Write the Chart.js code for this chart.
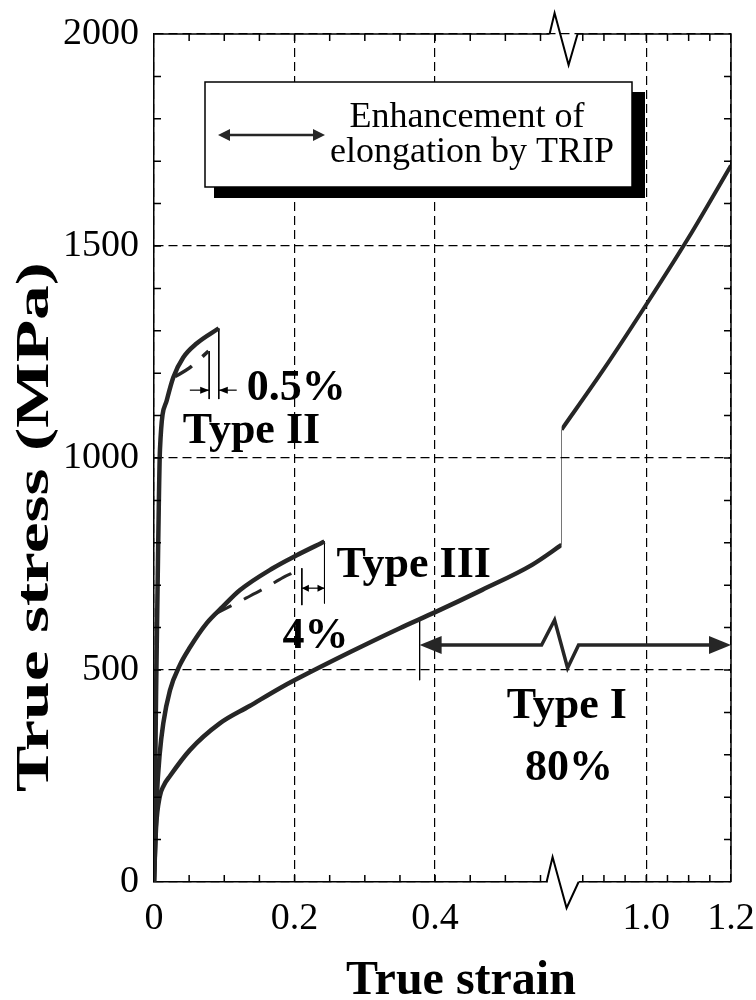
<!DOCTYPE html>
<html>
<head>
<meta charset="utf-8">
<script src="https://cdn.jsdelivr.net/npm/chart.js@4.4.0/dist/chart.umd.min.js"></script>
<style>
  html, body { margin: 0; padding: 0; background: #fff; }
  #wrap { width: 756px; height: 1000px; }
</style>
</head>
<body>
<div id="wrap"><canvas id="chart" width="756" height="1000"></canvas></div>
<script>
// Ejes (eje x partido: tramo izquierdo 0-0.58, tramo derecho 0.8-1.2)
const xLeftTicks = [0, 0.2, 0.4];
const xLeftLabels = ['0', '0.2', '0.4'];
const xRightTicks = [1.0, 1.2];
const xRightLabels = ['1.0', '1.2'];
const yTicks = [0, 500, 1000, 1500, 2000];
const yLabels = ['0', '500', '1000', '1500', '2000'];
const xTitle = 'True strain';
const yTitle = 'True stress (MPa)';

// Type I
const typeIStrain = [0, 0.003, 0.008, 0.014, 0.0227, 0.051, 0.0936, 0.136, 0.179, 0.2024, 0.28, 0.349, 0.401, 0.467, 0.538, 0.58];
const typeIStress = [0, 130, 200, 228, 250, 311, 374, 415, 457, 478, 543, 598, 637, 689, 748, 795];
const typeIJumpStrain = [0.58, 0.58];
const typeIJumpStress = [795, 1067];
const typeIHighStrain = [0.8, 0.9, 1.0, 1.1, 1.2];
const typeIHighStress = [1067, 1210, 1362, 1520, 1690];
const typeIMarkStrain = [0.378, 0.378];
const typeIMarkStress = [620, 476];

// Type II
const typeIIStrain = [0, 0.003, 0.006, 0.0085, 0.018, 0.0274, 0.0416, 0.0606, 0.0922];
const typeIIStress = [0, 450, 800, 1020, 1135, 1190, 1237, 1270, 1306];
const typeIIBaseStrain = [0.03, 0.05, 0.0775];
const typeIIBaseStress = [1192, 1212, 1252];
const typeIIMarkAStrain = [0.0922, 0.0922];
const typeIIMarkAStress = [1306, 1139];
const typeIIMarkBStrain = [0.0785, 0.0785];
const typeIIMarkBStress = [1252, 1139];

// Type III
const typeIIIStrain = [0, 0.004, 0.008, 0.0132, 0.0227, 0.0369, 0.051, 0.0748, 0.0983, 0.122, 0.169, 0.2024, 0.2426];
const typeIIIStress = [0, 200, 300, 374, 452, 512, 553, 610, 650, 688, 740, 770, 803];
const typeIIIBaseStrain = [0.085, 0.108, 0.1315, 0.162, 0.1834, 0.2024, 0.2104];
const typeIIIBaseStress = [630, 650, 670, 697, 718, 733, 740];
const typeIIIMarkAStrain = [0.2426, 0.2426];
const typeIIIMarkAStress = [803, 657];
const typeIIIMarkBStrain = [0.2104, 0.2104];
const typeIIIMarkBStress = [740, 653];

// Flechas de alargamiento [x1, x2, esfuerzo]
const arrowTypeII = [[0.051, 0.0785, 1160], [0.1177, 0.0922, 1160]];
const arrowTypeIII = [0.2104, 0.2426, 693];
const arrowTypeI = [0.378, 1.2, 559];

// Textos [texto, x, y, alineación]
const notes = [
  ['0.5%', 0.132, 1137, 'left'],
  ['Type II', 0.041, 1035, 'left'],
  ['Type III', 0.2596, 719, 'left'],
  ['4%', 0.183, 552, 'left'],
  ['Type I', 0.502, 387, 'left'],
  ['80%', 0.528, 241, 'left']
];
const legendLines = ['Enhancement of', 'elongation by TRIP'];

const SERIF = '"Liberation Serif", "Times New Roman", serif';
const INK = '#262626';

function pts(xs, ys) { return xs.map((x, i) => ({ x: x, y: ys[i] })); }

function curve(data, axis, width, dash) {
  const thin = dash === 'thin';
  return {
    data: data, xAxisID: axis, yAxisID: 'y', showLine: true,
    borderColor: thin ? '#000' : INK,
    borderWidth: width, borderDash: Array.isArray(dash) ? dash : [],
    pointRadius: 0, fill: false,
    cubicInterpolationMode: thin ? 'default' : 'monotone', tension: thin ? 0 : 0.4
  };
}

function head(ctx, x, y, dir, len, half) {
  ctx.beginPath();
  ctx.moveTo(x, y);
  ctx.lineTo(x - dir * len, y - half);
  ctx.lineTo(x - dir * len, y + half);
  ctx.closePath();
  ctx.fill();
}

function zigzag(ctx, bx, y, pts) {
  ctx.beginPath();
  pts.forEach((p, i) => i ? ctx.lineTo(bx + p[0], y + p[1]) : ctx.moveTo(bx + p[0], y + p[1]));
  ctx.stroke();
}

// quitar el margen que Chart.js reserva para las etiquetas extremas
function noEdgePad(s) {
  s.paddingLeft = 0; s.paddingRight = 0; s.paddingTop = 0; s.paddingBottom = 0;
}

// Marco, marcas internas, corte del eje, flechas, textos y leyenda
const decor = {
  id: 'decor',
  afterDraw(chart) {
    const { ctx, chartArea: a, scales } = chart;
    const xl = scales.xL, xr = scales.xR, y = scales.y;
    const bx = xl.right;
    ctx.save();
    ctx.strokeStyle = '#000';
    ctx.fillStyle = '#000';
    ctx.lineWidth = 1.5;

    // marcas menores hacia dentro
    ctx.beginPath();
    for (let v = 0.05; v < 0.58; v += 0.05) {
      const px = xl.getPixelForValue(v);
      ctx.moveTo(px, a.bottom); ctx.lineTo(px, a.bottom - 7);
      ctx.moveTo(px, a.top); ctx.lineTo(px, a.top + 7);
    }
    for (let v = 0.85; v < 1.199; v += 0.05) {
      const px = xr.getPixelForValue(v);
      ctx.moveTo(px, a.bottom); ctx.lineTo(px, a.bottom - 7);
      ctx.moveTo(px, a.top); ctx.lineTo(px, a.top + 7);
    }
    for (let v = 100; v < 2000; v += 100) {
      const py = y.getPixelForValue(v);
      ctx.moveTo(a.left, py); ctx.lineTo(a.left + 7, py);
      ctx.moveTo(a.right, py); ctx.lineTo(a.right - 7, py);
    }
    ctx.stroke();

    // marco superior y derecho
    ctx.beginPath();
    ctx.moveTo(a.left, a.top); ctx.lineTo(bx - 12, a.top);
    ctx.moveTo(bx + 16, a.top); ctx.lineTo(a.right, a.top);
    ctx.lineTo(a.right, a.bottom);
    ctx.stroke();

    // corte del eje x
    ctx.fillStyle = '#fff';
    ctx.fillRect(bx - 14, a.bottom - 3, 31, 6);
    ctx.fillStyle = '#000';
    ctx.lineWidth = 2;
    zigzag(ctx, bx, a.bottom, [[-15, 0], [-9, -25], [5, 26], [17, 0]]);
    zigzag(ctx, bx, a.top, [[-12, 0], [-7, -21], [7, 31], [16, 0]]);

    // flechas Type II (0.5%)
    ctx.lineWidth = 1.2;
    arrowTypeII.forEach(r => {
      const x1 = xl.getPixelForValue(r[0]), x2 = xl.getPixelForValue(r[1]), py = y.getPixelForValue(r[2]);
      ctx.beginPath(); ctx.moveTo(x1, py); ctx.lineTo(x2, py); ctx.stroke();
      head(ctx, x2, py, Math.sign(x2 - x1), 9, 3.5);
    });

    // flecha Type III (4%)
    {
      const x1 = xl.getPixelForValue(arrowTypeIII[0]), x2 = xl.getPixelForValue(arrowTypeIII[1]);
      const py = y.getPixelForValue(arrowTypeIII[2]);
      ctx.beginPath(); ctx.moveTo(x1, py); ctx.lineTo(x2, py); ctx.stroke();
      head(ctx, x1, py, -1, 7, 3.5);
      head(ctx, x2, py, 1, 7, 3.5);
    }

    // flecha Type I (80%) con corte
    {
      const x1 = xl.getPixelForValue(arrowTypeI[0]), x2 = xr.getPixelForValue(arrowTypeI[1]);
      const py = y.getPixelForValue(arrowTypeI[2]);
      ctx.lineWidth = 3.5;
      ctx.strokeStyle = INK;
      ctx.fillStyle = INK;
      ctx.beginPath();
      ctx.moveTo(x1 + 15, py);
      ctx.lineTo(bx - 20, py);
      ctx.lineTo(bx - 7, py - 25);
      ctx.lineTo(bx + 6, py + 23);
      ctx.lineTo(bx + 17, py);
      ctx.lineTo(x2 - 15, py);
      ctx.stroke();
      head(ctx, x1, py, -1, 22, 9);
      head(ctx, x2, py, 1, 22, 9);
    }

    // textos
    ctx.fillStyle = '#000';
    ctx.font = 'bold 44px ' + SERIF;
    ctx.textBaseline = 'alphabetic';
    notes.forEach(n => {
      const sc = n[1] > 0.7 ? xr : xl;
      ctx.textAlign = n[3];
      ctx.fillText(n[0], sc.getPixelForValue(n[1]), y.getPixelForValue(n[2]));
    });

    // leyenda con sombra
    ctx.fillStyle = '#000';
    ctx.fillRect(214, 92, 431, 106);
    ctx.fillStyle = '#fff';
    ctx.fillRect(205, 82, 427, 105);
    ctx.strokeStyle = '#000';
    ctx.lineWidth = 1.5;
    ctx.strokeRect(205, 82, 427, 105);
    ctx.fillStyle = INK;
    ctx.strokeStyle = INK;
    ctx.lineWidth = 2.5;
    ctx.beginPath(); ctx.moveTo(226, 135); ctx.lineTo(317, 135); ctx.stroke();
    head(ctx, 218, 135, -1, 12, 6);
    head(ctx, 325, 135, 1, 12, 6);
    ctx.fillStyle = '#000';
    ctx.font = '36px ' + SERIF;
    ctx.textAlign = 'center';
    ctx.fillText(legendLines[0], 467, 127);
    ctx.fillText(legendLines[1], 472, 162);

    // títulos de ejes
    ctx.font = 'bold 48px ' + SERIF;
    ctx.textAlign = 'center';
    ctx.fillText(xTitle, 461, 994);
    ctx.save();
    ctx.translate(36, 527);
    ctx.rotate(-Math.PI / 2);
    ctx.font = 'bold 46px ' + SERIF;
    const w = ctx.measureText(yTitle).width;
    ctx.scale(530 / w, 1);
    ctx.textBaseline = 'middle';
    ctx.fillText(yTitle, 0, 0);
    ctx.restore();

    ctx.restore();
  }
};

const tickFont = { family: SERIF, size: 38 };
const gridOpts = { color: '#000', lineWidth: 1.2, drawTicks: false };
const borderOpts = { display: true, color: '#000', width: 1.5, dash: [9, 5] };

new Chart(document.getElementById('chart'), {
  type: 'scatter',
  data: {
    datasets: [
      curve(pts(typeIStrain, typeIStress), 'xL', 4.5),
      curve(pts(typeIJumpStrain, typeIJumpStress), 'xL', 1, 'thin'),
      curve(pts(typeIHighStrain, typeIHighStress), 'xR', 4),
      curve(pts(typeIMarkStrain, typeIMarkStress), 'xL', 1, 'thin'),
      curve(pts(typeIIStrain, typeIIStress), 'xL', 4.5),
      curve(pts(typeIIBaseStrain, typeIIBaseStress), 'xL', 3.5, [20, 14]),
      curve(pts(typeIIMarkAStrain, typeIIMarkAStress), 'xL', 1, 'thin'),
      curve(pts(typeIIMarkBStrain, typeIIMarkBStress), 'xL', 1, 'thin'),
      curve(pts(typeIIIStrain, typeIIIStress), 'xL', 4.5),
      curve(pts(typeIIIBaseStrain, typeIIIBaseStress), 'xL', 3, [20, 14]),
      curve(pts(typeIIIMarkAStrain, typeIIIMarkAStress), 'xL', 1, 'thin'),
      curve(pts(typeIIIMarkBStrain, typeIIIMarkBStress), 'xL', 1, 'thin')
    ]
  },
  options: {
    responsive: false,
    animation: false,
    devicePixelRatio: 1,
    layout: { padding: { top: 34, right: 25, left: 0, bottom: 0 } },
    plugins: { legend: { display: false }, tooltip: { enabled: false } },
    scales: {
      xL: {
        type: 'linear', axis: 'x', position: 'bottom', stack: 'strain', stackWeight: 409,
        min: 0, max: 0.58,
        afterBuildTicks: s => { s.ticks = xLeftTicks.map(v => ({ value: v })); },
        afterFit: s => { s.height = 118; noEdgePad(s); },
        ticks: { font: tickFont, color: '#000', padding: 14, maxRotation: 0, autoSkip: false,
          callback: v => xLeftLabels[xLeftTicks.indexOf(v)] },
        grid: gridOpts, border: borderOpts
      },
      xR: {
        type: 'linear', axis: 'x', position: 'bottom', stack: 'strain', stackWeight: 170,
        min: 0.8, max: 1.2,
        afterBuildTicks: s => { s.ticks = xRightTicks.map(v => ({ value: v })); },
        afterFit: s => { s.height = 118; noEdgePad(s); },
        ticks: { font: tickFont, color: '#000', padding: 14, maxRotation: 0, autoSkip: false,
          callback: v => xRightLabels[xRightTicks.indexOf(v)] },
        grid: gridOpts, border: borderOpts
      },
      y: {
        type: 'linear', position: 'left', min: 0, max: 2000,
        afterBuildTicks: s => { s.ticks = yTicks.map(v => ({ value: v })); },
        afterFit: s => { s.width = 154; noEdgePad(s); },
        ticks: { font: tickFont, color: '#000', padding: 15,
          callback: v => yLabels[yTicks.indexOf(v)] },
        grid: gridOpts, border: borderOpts
      }
    }
  },
  plugins: [decor]
});
</script>
</body>
</html>
